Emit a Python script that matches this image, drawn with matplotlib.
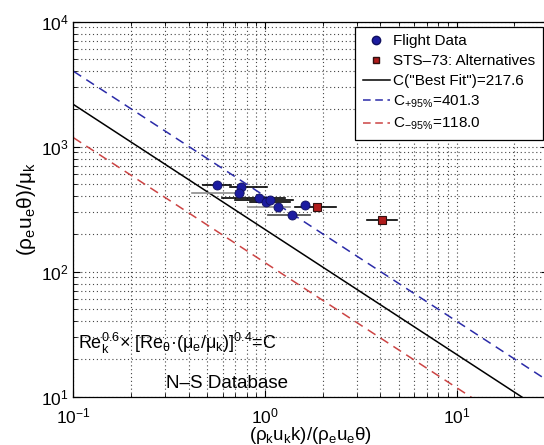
import numpy as np
import matplotlib
matplotlib.use("Agg")
from matplotlib import pyplot as plt
from matplotlib.lines import Line2D

plt.rcParams['font.family'] = ['Liberation Sans', 'DejaVu Sans']
plt.rcParams['mathtext.fontset'] = 'custom'
plt.rcParams['mathtext.rm'] = 'Liberation Sans'
plt.rcParams['mathtext.it'] = 'Liberation Sans'
plt.rcParams['mathtext.bf'] = 'Liberation Sans:bold'

# flight data (blue dots) with horizontal uncertainty
flight_x = [0.563, 0.748, 0.727, 0.932, 1.015, 1.057, 1.17, 1.61, 1.377]
flight_y = [491, 474, 426, 389, 358, 373, 331, 344, 285]
flight_xlo = [0.474, 0.656, 0.415, 0.596, 0.834, 0.697, 0.814, 1.61, 1.035]
flight_xhi = [0.664, 1.023, 0.776, 1.27, 1.35, 1.40, 1.35, 1.61, 1.715]
flight_bar = ['black', 'black', '#8c8c8c', 'black', 'black', 'black', '#8c8c8c', 'black', '#444444']

# STS-73 alternatives (red squares)
sts_x = [1.866, 4.09]
sts_y = [329, 259]
sts_xlo = [1.43, 3.40]
sts_xhi = [2.34, 4.88]

# correlation constants: Re_k^0.6 x [Re_theta (mu_e/mu_k)]^0.4 = C
C_fit = 217.6
C_up = 401.3
C_lo = 118.0

x_range = np.array([0.1, 30.0])

fig = plt.figure(figsize=(5.44, 4.45), dpi=100)
ax = fig.add_axes([0.1351, 0.1085, 0.8725, 0.8427])

ax.plot(x_range, C_fit / x_range, color='black', lw=1.1)
ax.plot(x_range, C_up / x_range, color='#2b2ba8', lw=1.1, ls=(0, (6, 4)))
ax.plot(x_range, C_lo / x_range, color='#cc4444', lw=1.1, ls=(0, (6, 4)))

for i in range(len(flight_x)):
    if flight_xhi[i] > flight_xlo[i]:
        ax.plot([flight_xlo[i], flight_xhi[i]], [flight_y[i], flight_y[i]],
                color=flight_bar[i], lw=1.2)
for i in range(len(sts_x)):
    ax.plot([sts_xlo[i], sts_xhi[i]], [sts_y[i], sts_y[i]], color='black', lw=1.2)

ax.plot(flight_x, flight_y, 'o', ms=6.5, mfc='#1c1ca0', mec='#101060', mew=0.6, ls='none')
ax.plot(sts_x, sts_y, 's', ms=5.5, mfc='#b01c1c', mec='#301010', mew=0.8, ls='none')

ax.set_xscale('log')
ax.set_yscale('log')
ax.set_xlim(0.1, 30)
ax.set_ylim(10, 1e4)

ax.grid(True, which='both', ls=(0, (1, 2.5)), color='#444444', lw=0.8)
ax.tick_params(which='both', direction='in', top=True, right=True, labelsize=12.5)
ax.tick_params(axis='x', which='major', pad=7)
ax.tick_params(which='major', length=5)
ax.tick_params(which='minor', length=3)
for s in ax.spines.values():
    s.set_linewidth(0.9)

ax.set_xlabel(r'$(\rho_k u_k k)/(\rho_e u_e \theta)$', fontsize=13.5, labelpad=-1)
ax.set_ylabel(r'$(\rho_e u_e \theta)/\mu_k$', fontsize=15, labelpad=2)

ax.text(0.105, 24, r'$\mathrm{Re}_k^{0.6}$' + '× [' + r'$\mathrm{Re}_\theta$' + '·(' +
        r'$\mu_e$/$\mu_k$' + ')]' + r'$^{0.4}$' + '=C', fontsize=13, va='baseline')
ax.text(0.305, 11.8, 'N–S Database', fontsize=13.5, va='baseline')

handles = [
    Line2D([], [], marker='o', ls='none', ms=6, mfc='#1c1ca0', mec='#101060'),
    Line2D([], [], marker='s', ls='none', ms=5, mfc='#b01c1c', mec='#301010'),
    Line2D([], [], color='black', lw=1.1),
    Line2D([], [], color='#2b2ba8', lw=1.1, ls=(0, (5, 3))),
    Line2D([], [], color='#cc4444', lw=1.1, ls=(0, (5, 3))),
]
labels = ['Flight Data', 'STS–73: Alternatives', 'C("Best Fit")=217.6',
          r'C$_{+95\%}$=401.3', r'C$_{-95\%}$=118.0']
leg = ax.legend(handles, labels, loc='upper right', bbox_to_anchor=(0.998, 0.94),
                bbox_transform=fig.transFigure, borderaxespad=0, fontsize=11,
                fancybox=False, framealpha=1, edgecolor='black', handlelength=1.8,
                handletextpad=0.2, labelspacing=0.38, borderpad=0.5)
leg.get_frame().set_linewidth(0.9)

fig.savefig('out.png', dpi=100)
